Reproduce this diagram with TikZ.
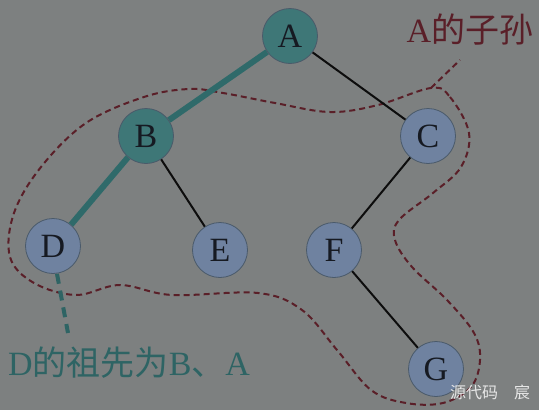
\documentclass[tikz,border=0pt]{standalone}
\usepackage{fontspec}
\setmainfont{Liberation Serif}
\newfontfamily\cjkf{Noto Sans CJK SC}
\newcommand\zh[1]{{\cjkf #1}}
\definecolor{bg}{HTML}{7D8080}
\definecolor{tealfill}{HTML}{3E7777}
\definecolor{bluefill}{HTML}{6F82A0}
\definecolor{nodeline}{HTML}{4A5A6A}
\definecolor{nodetext}{HTML}{161A22}
\definecolor{thickteal}{HTML}{2F6A6A}
\definecolor{labelteal}{HTML}{2E6464}
\definecolor{darkred}{HTML}{5A1F28}
\definecolor{wm}{HTML}{E6E6E6}
\tikzset{
  tn/.style={circle, minimum size=55pt, inner sep=0pt, draw=nodeline, line width=0.8pt,
    font=\fontsize{34}{36}\selectfont, text=nodetext},
  tealnode/.style={tn, fill=tealfill},
  bluenode/.style={tn, fill=bluefill},
  thinedge/.style={draw=black!95, line width=2pt},
  thickedge/.style={draw=thickteal, line width=6pt},
  regionline/.style={draw=darkred, line width=2pt, dash pattern=on 6pt off 4pt},
}
\begin{document}
\begin{tikzpicture}[x=1pt,y=-1pt]
\fill[bg] (0,0) rectangle (539,410);
\useasboundingbox (0,0) rectangle (539,410);

% region loop
\draw[regionline] plot[smooth cycle, tension=0.6] coordinates {
 (431,88) (450,97) (469,133) (461,167) (433,193) (399,220) (395,240)
 (412,267) (447,300) (474,333) (480,360) (471,387) (443,403) (406,403)
 (371,390) (337,350) (302,310) (258,293) (172,295) (120,285) (76,295)
 (34,283) (10,257) (14,213) (41,167) (86,123) (144,97) (189,89)
 (223,93) (275,103) (330,112) (378,105)};
\coordinate (tailend) at (460,60);
\coordinate (tailstart) at (431,88);
\draw[regionline] (tailstart) -- (tailend);

% nodes
\node[tealnode] (A) at (290,36) {A};
\node[tealnode] (B) at (146,136) {B};
\node[bluenode] (C) at (428,136) {C};
\node[bluenode] (D) at (53,246) {D};
\node[bluenode] (E) at (220,250) {E};
\node[bluenode] (F) at (334,250) {F};
\node[bluenode] (G) at (436,369) {G};

% edges
\draw[thickedge] (A) -- (B);
\draw[thickedge] (B) -- (D);
\draw[thinedge] (A) -- (C);
\draw[thinedge] (B) -- (E);
\draw[thinedge] (C) -- (F);
\draw[thinedge] (F) -- (G);

% ancestor pointer
\coordinate (dtail) at (68,333);
\draw[draw=labelteal, line width=4pt, dash pattern=on 10pt off 7pt] (D.south) ++(4,0) -- (dtail);

% labels
\node[anchor=west, text=labelteal, font=\fontsize{34}{36}\selectfont, inner sep=0pt] (anc) at (8,363)
  {D\zh{的祖先为}B\zh{、}A};
\node[text=darkred, font=\fontsize{34}{36}\selectfont, inner sep=0pt] (desc) at (470,30)
  {A\zh{的子孙}};
\node[text=wm, font=\cjkf\fontsize{16}{18}\selectfont, inner sep=0pt] (wmark) at (490,392)
  {源代码\quad 宸};
\end{tikzpicture}
\end{document}
